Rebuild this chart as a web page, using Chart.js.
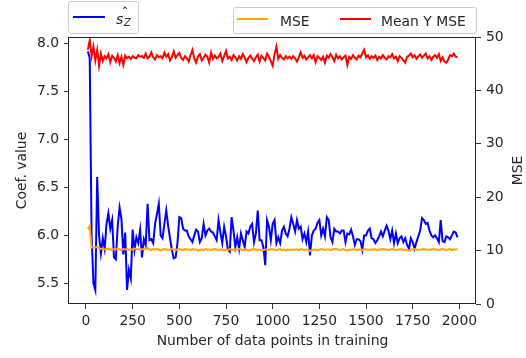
<!DOCTYPE html>
<html>
<head>
<meta charset="utf-8">
<script src="https://cdn.jsdelivr.net/npm/chart.js@4.4.1/dist/chart.umd.min.js"></script>
<style>
  body { margin: 0; background: #fff; }
  #wrap { position: relative; width: 526px; height: 358px; font-family: "DejaVu Sans"; color: #262626; }
  .frame { position: absolute; border: 1px solid #cccccc; border-radius: 3px; background: rgba(255,255,255,0.8); box-sizing: border-box; }
  .swatch { position: absolute; height: 2px; }
  .lbl { position: absolute; font-size: 13.9px; line-height: 16px; white-space: nowrap; }
  .math { position: absolute; font-style: italic; white-space: nowrap; }
</style>
</head>
<body>
<div id="wrap">
  <canvas id="myChart" width="526" height="358"></canvas>

  <!-- legend for the coefficient axis -->
  <div class="frame" style="left:68px;top:1px;width:71px;height:33px"></div>
  <span class="swatch" style="left:73px;top:16px;width:32px;background:#0000ff"></span>
  <span class="math" style="left:116px;top:11px;font-size:14px;line-height:16px">s</span>
  <span class="math" style="left:124px;top:16.5px;font-size:10px;line-height:12px">Z</span>
  <span class="math" style="left:121.5px;top:5px;font-size:14px;line-height:16px;font-style:normal">ˆ</span>

  <!-- legend for the MSE axis -->
  <div class="frame" style="left:233px;top:7px;width:244px;height:27px"></div>
  <span class="swatch" style="left:237px;top:18px;width:31px;background:#ffa500"></span>
  <span class="lbl" style="left:280px;top:12.5px">MSE</span>
  <span class="swatch" style="left:340px;top:18px;width:31px;background:#ff0000"></span>
  <span class="lbl" style="left:381px;top:12.5px">Mean Y MSE</span>
</div>

<script>
// * data: training sizes run 10, 20, ... 1990
const nStart = 10;
const nStep = 10;

const sZ = [
  7.92, 7.85, 6.00, 5.50, 5.43, 6.61, 6.00, 5.81, 5.97, 5.86,
  6.12, 6.23, 6.07, 6.16, 5.77, 5.75, 6.10, 6.29, 6.17, 5.80,
  6.03, 5.43, 5.64, 5.55, 6.06, 5.85, 5.98, 5.92, 6.06, 5.77,
  5.96, 5.90, 6.33, 5.95, 5.96, 5.92, 6.12, 6.22, 6.33, 6.00,
  5.97, 6.12, 6.26, 6.10, 5.97, 5.85, 5.76, 5.77, 5.92, 6.19,
  6.18, 6.07, 6.05, 6.05, 5.99, 5.96, 5.93, 6.00, 6.06, 6.04,
  5.93, 5.97, 6.12, 6.00, 6.05, 6.07, 6.04, 6.03, 5.99, 5.95,
  6.16, 6.03, 5.92, 6.09, 5.99, 5.85, 5.83, 6.19, 6.05, 5.88,
  5.98, 5.86, 6.02, 5.95, 5.88, 6.04, 6.02, 6.09, 6.12, 5.93,
  6.02, 6.26, 5.95, 5.95, 5.88, 5.69, 6.16, 6.09, 5.95, 6.12,
  6.16, 5.92, 5.98, 5.92, 6.05, 6.09, 6.02, 5.99, 6.07, 6.19,
  6.12, 6.04, 6.16, 6.07, 6.09, 5.96, 6.02, 5.93, 6.04, 5.79,
  6.00, 6.05, 6.07, 6.13, 6.16, 6.00, 6.07, 5.99, 6.19, 6.16,
  5.98, 5.93, 6.07, 6.04, 6.04, 6.02, 6.05, 6.05, 5.93, 6.02,
  6.01, 6.06, 5.99, 5.90, 5.96, 5.96, 5.94, 5.85, 6.00, 6.00,
  6.05, 6.07, 5.97, 5.96, 5.92, 5.95, 5.99, 6.04, 5.99, 6.05,
  6.10, 6.05, 5.96, 6.05, 5.92, 6.02, 5.92, 5.97, 5.99, 5.93,
  5.97, 5.90, 5.86, 5.97, 5.93, 5.86, 5.93, 5.99, 6.05, 6.18,
  6.16, 6.12, 6.13, 6.05, 6.00, 5.98, 6.00, 5.97, 5.93, 6.16,
  5.94, 5.93, 5.99, 5.98, 5.96, 6.00, 6.04, 6.03, 5.98
];

const mse = [
  14.0, 14.6, 10.6, 10.6, 10.6, 10.7, 10.5, 10.3, 10.4, 10.2,
  10.3, 10.2, 10.3, 10.1, 10.3, 10.2, 10.4, 10.2, 10.1, 10.3,
  10.2, 10.3, 10.1, 10.3, 10.2, 10.4, 10.3, 10.2, 10.3, 10.2,
  10.4, 10.3, 10.5, 10.2, 10.1, 10.3, 10.2, 10.3, 10.2, 10.0,
  10.2, 10.3, 10.2, 10.1, 10.2, 10.3, 10.2, 10.1, 10.2, 10.3,
  10.2, 10.1, 10.3, 10.2, 10.2, 10.1, 10.3, 10.2, 10.2, 10.0,
  10.1, 10.2, 10.1, 10.3, 10.2, 10.2, 10.1, 10.2, 10.3, 10.2,
  10.1, 10.2, 10.2, 10.0, 10.2, 10.1, 10.3, 10.2, 10.1, 10.2,
  10.2, 10.3, 10.2, 10.1, 10.2, 10.2, 10.0, 10.1, 10.2, 10.3,
  10.2, 10.1, 10.2, 10.0, 10.1, 10.2, 10.2, 10.1, 10.3, 10.2,
  10.2, 10.1, 10.2, 10.3, 10.1, 10.2, 10.0, 10.2, 10.1, 10.2,
  10.1, 10.2, 10.2, 10.1, 10.3, 10.2, 10.1, 10.2, 10.2, 9.9,
  10.1, 10.2, 10.2, 10.1, 10.2, 10.3, 10.2, 10.1, 10.2, 10.2,
  10.1, 10.2, 10.3, 10.4, 10.2, 10.1, 10.2, 10.3, 10.1, 10.0,
  10.1, 10.2, 10.2, 10.3, 10.1, 10.2, 10.2, 10.1, 10.3, 10.2,
  10.2, 10.1, 10.2, 10.2, 10.3, 10.1, 10.2, 10.2, 10.3, 10.2,
  10.2, 10.1, 10.2, 10.3, 10.2, 10.1, 10.2, 10.2, 10.3, 10.1,
  10.2, 10.1, 10.0, 10.2, 10.2, 10.3, 10.2, 10.1, 10.2, 10.2,
  10.3, 10.2, 10.2, 10.1, 10.2, 10.3, 10.2, 10.2, 10.1, 10.2,
  10.3, 10.2, 10.1, 10.2, 10.3, 10.1, 10.2, 10.2, 10.3
];

const meanYMse = [
  47.6, 49.4, 46.4, 48.2, 45.6, 47.6, 44.6, 46.9, 45.5, 46.4,
  46.0, 46.8, 45.3, 46.5, 46.1, 45.4, 46.6, 45.1, 46.3, 44.8,
  46.5, 46.0, 46.3, 45.9, 46.4, 46.1, 46.0, 46.6, 46.3, 46.4,
  46.1, 46.9, 46.0, 46.3, 47.1, 46.2, 45.8, 46.6, 46.2, 46.4,
  46.0, 47.1, 46.3, 46.8, 45.6, 46.2, 47.3, 46.1, 46.6, 47.0,
  46.1, 45.7, 46.4, 46.0, 45.4, 46.6, 47.6, 46.0, 45.2, 46.4,
  46.8, 45.6, 46.1, 46.7, 46.3, 45.2, 47.1, 45.9, 46.5, 46.0,
  46.3, 46.9, 45.5, 46.4, 47.4, 46.0, 46.3, 45.7, 46.6, 46.2,
  45.6, 46.4, 45.9, 46.8, 46.2, 45.3, 46.1, 46.5, 46.0, 45.5,
  46.2, 46.7, 45.4, 46.5, 46.1, 45.6, 46.9, 46.3, 45.5, 44.6,
  46.7, 48.2, 45.9, 46.6, 46.1, 45.8, 46.4, 46.0, 46.3, 45.9,
  46.4, 46.0, 45.4, 46.2, 47.1, 46.1, 46.5, 45.8, 46.2, 46.6,
  46.0, 46.6, 45.3, 46.4, 46.1, 45.7, 46.3, 45.2, 46.5, 46.1,
  46.8, 46.2, 45.5, 46.7, 46.0, 46.4, 45.8, 46.2, 46.5, 44.8,
  46.3, 45.9, 46.6, 46.1, 45.8, 46.5, 46.2, 46.9, 47.6, 46.2,
  46.6, 45.9, 46.4, 46.1, 46.5, 45.7, 46.3, 46.0, 46.6, 46.1,
  45.8, 46.4, 46.2, 46.8, 46.0, 46.3, 45.5, 46.4, 46.1, 45.6,
  45.2, 46.3, 46.5, 46.9, 46.2, 46.6, 45.9, 46.4, 46.7, 46.1,
  46.5, 46.9, 46.0, 46.4, 45.7, 46.3, 46.6, 46.1, 46.8, 45.5,
  46.2, 45.4, 45.2, 45.8, 46.6, 46.4, 46.9, 46.3, 46.2
];

// * tick labels
const xTicks = [0, 250, 500, 750, 1000, 1250, 1500, 1750, 2000];
const coefTicks = [5.5, 6.0, 6.5, 7.0, 7.5, 8.0];
const mseTicks = [0, 10, 20, 30, 40, 50];

const sizes = sZ.map((_, i) => nStart + i * nStep);
const toPoints = (vals) => vals.map((v, i) => ({ x: sizes[i], y: v }));

// * plot frame and right-hand axis title
const frame = {
  id: "frame",
  afterDraw(chart) {
    const { ctx, chartArea: a, scales } = chart;
    ctx.save();
    ctx.strokeStyle = "#222";
    ctx.lineWidth = 1;
    ctx.strokeRect(Math.round(a.left) - 0.5, Math.round(a.top) + 0.5,
      Math.round(a.right - a.left), Math.round(a.bottom - a.top) - 1);

    ctx.translate(scales.y2.right - 8, (a.top + a.bottom) / 2);
    ctx.rotate(-Math.PI / 2);
    ctx.font = "13.9px 'DejaVu Sans'";
    ctx.fillStyle = "#262626";
    ctx.textAlign = "center";
    ctx.textBaseline = "middle";
    ctx.fillText("MSE", 0, 0);
    ctx.restore();
  },
};

Chart.defaults.font.family = "'DejaVu Sans'";
Chart.defaults.font.size = 13.9;
Chart.defaults.color = "#262626";

const tickGrid = {
  drawOnChartArea: false,
  drawTicks: true,
  tickLength: 5,
  tickColor: "#333",
  tickWidth: 1,
};

const line = (label, data, color, axis, order) => ({
  label,
  data: toPoints(data),
  yAxisID: axis,
  borderColor: color,
  backgroundColor: color,
  borderWidth: 2,
  pointRadius: 0,
  tension: 0,
  fill: false,
  order,
});

new Chart("myChart", {
  type: "line",
  data: {
    datasets: [
      line("sZ", sZ, "#0000ff", "y", 2),
      line("MSE", mse, "#ffa500", "y2", 1),
      line("Mean Y MSE", meanYMse, "#ff0000", "y2", 0),
    ],
  },
  plugins: [frame],
  options: {
    responsive: false,
    devicePixelRatio: 1,
    animation: false,
    layout: { padding: { top: 37, left: 0, right: 0, bottom: 0 } },
    plugins: { legend: { display: false }, tooltip: { enabled: false } },
    scales: {
      x: {
        type: "linear",
        min: -91,
        max: 2089,
        grid: tickGrid,
        border: { display: false },
        afterBuildTicks: (s) => { s.ticks = xTicks.map((v) => ({ value: v })); },
        afterFit: (s) => { s.height = 54; },
        ticks: { autoSkip: false, maxRotation: 0, padding: 4, callback: (v) => String(v) },
        title: { display: true, text: "Number of data points in training", padding: { top: 0, bottom: 8 } },
      },
      y: {
        type: "linear",
        position: "left",
        min: 5.284,
        max: 8.07,
        grid: tickGrid,
        border: { display: false },
        afterBuildTicks: (s) => { s.ticks = coefTicks.map((v) => ({ value: v })); },
        afterFit: (s) => { s.width = 69; },
        ticks: { padding: 5, callback: (v) => v.toFixed(1) },
        title: { display: true, text: "Coef. value", padding: { top: 14, bottom: 0 } },
      },
      y2: {
        type: "linear",
        position: "right",
        min: 0,
        max: 50,
        grid: tickGrid,
        border: { display: false },
        afterBuildTicks: (s) => { s.ticks = mseTicks.map((v) => ({ value: v })); },
        afterFit: (s) => { s.width = 50; },
        ticks: { padding: 5, callback: (v) => String(v) },
      },
    },
  },
});
</script>
</body>
</html>
